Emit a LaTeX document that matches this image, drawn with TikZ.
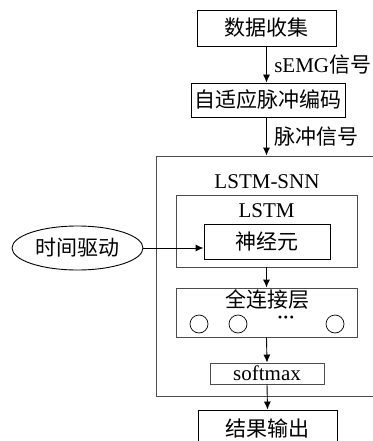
\documentclass[tikz,border=0pt]{standalone}
\usepackage{fontspec}
\setmainfont{Liberation Serif}
\newfontfamily\cjk{Noto Sans CJK SC}[Scale=1]
\usetikzlibrary{shapes.geometric,arrows.meta}
\begin{document}
\begin{tikzpicture}[x=1pt,y=-1pt,
  box/.style={draw=black,line width=0.9pt,rectangle,inner sep=0pt,font=\fontsize{21}{23}\selectfont\cjk},
  gbox/.style={draw=black!70,line width=0.9pt,rectangle,inner sep=0pt},
  lat/.style={font=\fontsize{21}{23}\selectfont},
  ch/.style={font=\fontsize{21}{23}\selectfont\cjk},
  arr/.style={line width=0.9pt,-{Latex[length=8pt,width=7pt]}},
  circ/.style={draw=black,line width=0.7pt,circle,minimum size=18pt,inner sep=0pt}]
\useasboundingbox (0,0) rectangle (372,441);
\node[box,minimum width=139pt,minimum height=36pt] (b1) at (266.5,28) {数据收集};
\node[box,minimum width=154pt,minimum height=34pt] (b2) at (268,100) {自适应脉冲编码};
\node[gbox,minimum width=217pt,minimum height=240pt] (snn) at (264.5,276) {};
\node[lat] (snnt) at (267,182) {LSTM-SNN};
\node[gbox,minimum width=181pt,minimum height=72pt] (lstm) at (266.5,231) {};
\node[lat] (lstmt) at (266.5,211) {LSTM};
\node[box,minimum width=126pt,minimum height=35pt] (neu) at (267,242) {神经元};
\node[draw=black,line width=0.9pt,ellipse,minimum width=131pt,minimum height=44pt,inner sep=0pt,ch] (ell) at (77.5,248) {时间驱动};
\node[gbox,minimum width=181pt,minimum height=49pt] (fc) at (266.5,312.5) {};
\node[ch] (fct) at (267,299) {全连接层};
\node[circ] (c1) at (199,324) {};
\node[circ] (c2) at (238,324) {};
\node[circ] (c3) at (335,324) {};
\node[inner sep=0pt,font=\fontsize{18}{18}\selectfont\bfseries] (dots) at (286,320) {···};
\node[gbox,minimum width=114pt,minimum height=21pt,lat] (sm) at (267,373.5) {softmax};
\node[box,minimum width=139pt,minimum height=36pt] (res) at (267.5,428) {结果输出};
\draw[arr] (b1.south) -- (b1.south |- b2.north) node[midway,anchor=west,xshift=4pt,lat] (l1) {sEMG\cjk 信号};
\draw[arr] (b2.south -| b1.south) -- (b1.south |- snn.north) node[midway,anchor=west,xshift=4pt,ch] (l2) {脉冲信号};
\draw[arr] (ell.east) -- (ell.east -| neu.west);
\draw[arr] (lstm.south) -- (fc.north);
\draw[arr] (fc.south) -- (sm.north);
\draw[arr] (sm.south) -- (res.north);
\end{tikzpicture}
\end{document}
